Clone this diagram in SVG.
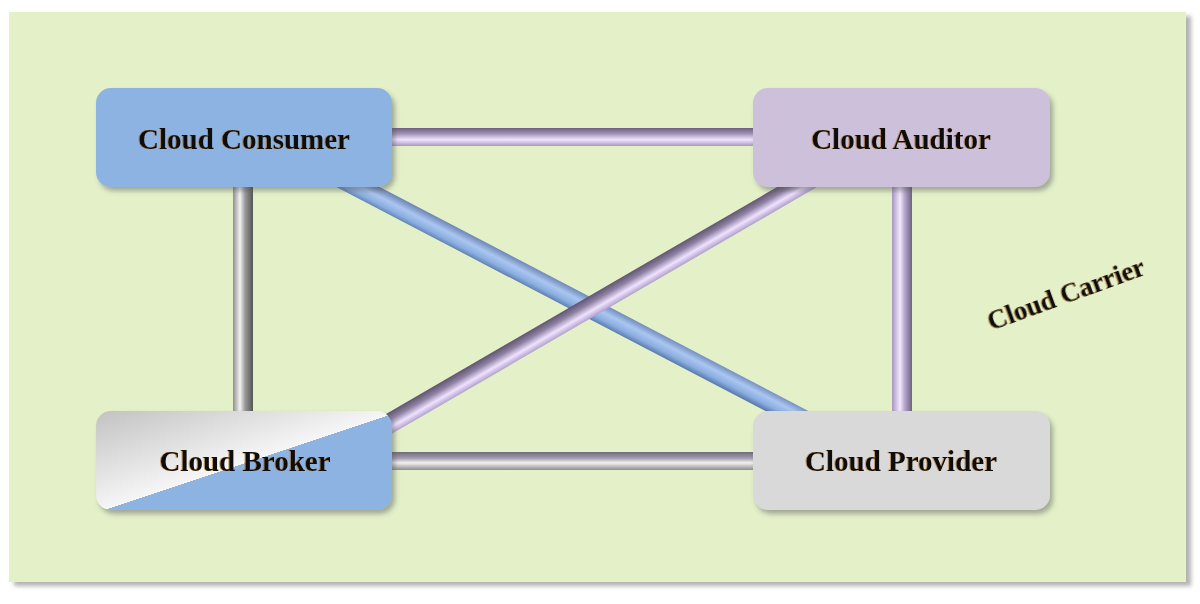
<svg xmlns="http://www.w3.org/2000/svg" width="1200" height="604" viewBox="0 0 1200 604">
<style>
.lbl{font-family:"Liberation Serif","Times New Roman",serif;font-weight:bold;font-size:29px;fill:#111;text-anchor:middle}
.node{filter:url(#sh)}
.txt{filter:url(#tsh)}
</style>
<defs>
<filter id="sh" x="-10%" y="-10%" width="125%" height="130%">
<feDropShadow dx="3" dy="4" stdDeviation="2.5" flood-color="#555" flood-opacity="0.45"/>
</filter>
<filter id="bgsh" x="-2%" y="-2%" width="105%" height="106%">
<feDropShadow dx="5" dy="4" stdDeviation="2" flood-color="#666" flood-opacity="0.5"/>
</filter>
<filter id="tsh" x="-5%" y="-20%" width="110%" height="140%">
<feDropShadow dx="-1" dy="0" stdDeviation="0.6" flood-color="#b07020" flood-opacity="0.6"/>
</filter>
<linearGradient id="gH" x1="0" y1="0" x2="0" y2="1">
<stop offset="0" stop-color="#6f6a78"/>
<stop offset="0.35" stop-color="#a49fae"/>
<stop offset="0.6" stop-color="#f2f2f2"/>
<stop offset="1" stop-color="#8d8d8d"/>
</linearGradient>
<linearGradient id="pH" x1="0" y1="0" x2="0" y2="1">
<stop offset="0" stop-color="#6c6080"/>
<stop offset="0.3" stop-color="#9c8fb2"/>
<stop offset="0.65" stop-color="#f1e6ff"/>
<stop offset="1" stop-color="#a797c0"/>
</linearGradient>
<linearGradient id="gV" x1="0" y1="0" x2="1" y2="0">
<stop offset="0" stop-color="#8e8e8e"/>
<stop offset="0.35" stop-color="#f3f3f3"/>
<stop offset="0.6" stop-color="#9a9a9a"/>
<stop offset="1" stop-color="#555"/>
</linearGradient>
<linearGradient id="pV" x1="0" y1="0" x2="1" y2="0">
<stop offset="0" stop-color="#a696be"/>
<stop offset="0.4" stop-color="#f2e8ff"/>
<stop offset="0.65" stop-color="#b3a4c8"/>
<stop offset="1" stop-color="#6e6280"/>
</linearGradient>
<linearGradient id="bD" gradientUnits="userSpaceOnUse" x1="579.6" y1="291.1" x2="570.4" y2="308.9">
<stop offset="0" stop-color="#6e88b8"/>
<stop offset="0.4" stop-color="#aac6f0"/>
<stop offset="0.75" stop-color="#8aaee0"/>
<stop offset="1" stop-color="#5f7fb3"/>
</linearGradient>
<linearGradient id="pD" gradientUnits="userSpaceOnUse" x1="590" y1="295.4" x2="600" y2="312.6">
<stop offset="0" stop-color="#5f5470"/>
<stop offset="0.35" stop-color="#8f82a4"/>
<stop offset="0.7" stop-color="#efe2ff"/>
<stop offset="1" stop-color="#b4a4cc"/>
</linearGradient>
<linearGradient id="brk" gradientUnits="userSpaceOnUse" x1="96" y1="411" x2="127" y2="504">
<stop offset="0" stop-color="#c2c2c2"/>
<stop offset="0.985" stop-color="#f6f6f6"/>
<stop offset="0.985" stop-color="#8db3e2"/>
<stop offset="1" stop-color="#8db3e2"/>
</linearGradient>
</defs>
<rect x="9" y="12" width="1177" height="570" fill="#e3f0c8" filter="url(#bgsh)"/>
<g id="connectors">
<rect x="380" y="128" width="385" height="18" fill="url(#pH)"/>
<rect x="380" y="452" width="385" height="18" fill="url(#gH)"/>
<rect x="233" y="175" width="20" height="248" fill="url(#gV)"/>
<rect x="892" y="175" width="20" height="248" fill="url(#pV)"/>
<line x1="330" y1="172.4" x2="810" y2="423" stroke="url(#bD)" stroke-width="20"/>
<line x1="370" y1="434.8" x2="820" y2="173.7" stroke="url(#pD)" stroke-width="20"/>
</g>
<g id="cloud-consumer" class="node">
<rect x="96" y="88" width="296" height="99" rx="15" fill="#8db3e2"/>
<text class="lbl txt" x="244" y="149">Cloud Consumer</text>
</g>
<g id="cloud-auditor" class="node">
<rect x="753" y="88" width="297" height="99" rx="15" fill="#ccc0da"/>
<text class="lbl txt" x="901" y="149">Cloud Auditor</text>
</g>
<g id="cloud-broker" class="node">
<rect x="96" y="411" width="296" height="99" rx="15" fill="url(#brk)"/>
<text class="lbl txt" x="245" y="471">Cloud Broker</text>
</g>
<g id="cloud-provider" class="node">
<rect x="753" y="411" width="297" height="99" rx="15" fill="#d9d9d9"/>
<text class="lbl txt" x="901" y="471">Cloud Provider</text>
</g>
<g id="cloud-carrier">
<text class="lbl txt" x="1066" y="303" transform="rotate(-20 1066 294)" style="font-size:27px">Cloud Carrier</text>
</g>
</svg>
